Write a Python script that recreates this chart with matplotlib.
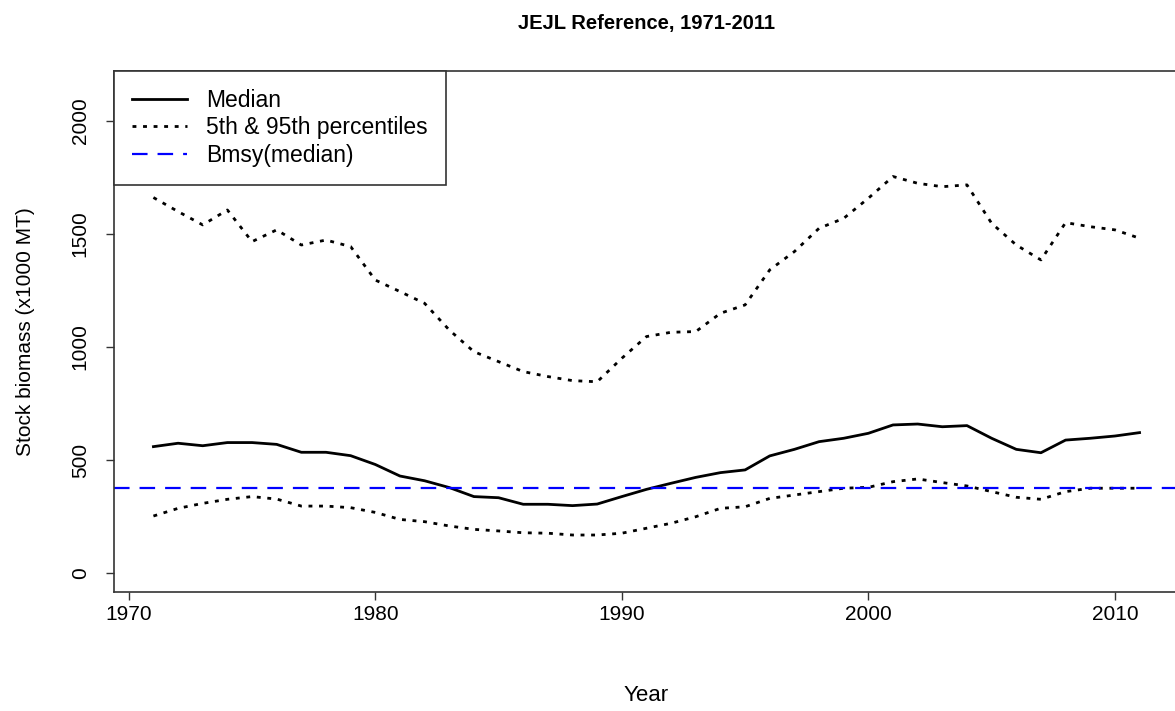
import matplotlib
matplotlib.use("Agg")
import matplotlib.pyplot as plt

plt.rcParams['font.family'] = ['Liberation Sans', 'DejaVu Sans']

# values (x1000 MT)
years = list(range(1971, 2012))
median = [559, 574, 563, 577, 577, 569, 534, 534, 519, 480,
          429, 408, 378, 338, 333, 304, 304, 298, 305, 338,
          370, 397, 423, 444, 456, 518, 547, 581, 596, 618,
          655, 659, 647, 652, 596, 547, 532, 588, 596, 606, 621]
p05 = [252, 286, 308, 326, 338, 327, 296, 296, 289, 268,
       237, 227, 208, 193, 186, 178, 176, 168, 168, 176,
       198, 220, 249, 286, 293, 330, 345, 360, 375, 379,
       404, 416, 400, 385, 360, 335, 326, 360, 375, 375, 375]
p95 = [1661, 1599, 1540, 1606, 1466, 1518, 1451, 1473, 1444, 1296,
       1245, 1193, 1075, 979, 935, 891, 869, 851, 846, 950,
       1046, 1065, 1068, 1149, 1186, 1341, 1422, 1525, 1569, 1658,
       1754, 1724, 1709, 1717, 1547, 1451, 1385, 1550, 1532, 1518, 1481]
bmsy = 378

fig = plt.figure(figsize=(11.75, 7.11), dpi=100)
ax = fig.add_axes([0.0970, 0.1674, 0.9064, 0.7328])

ax.plot(years, median, color='black', lw=2.0, label='Median')
ax.plot(years, p95, color='black', lw=2.0, dashes=(1.4, 2.4), label='5th & 95th percentiles')
ax.plot(years, p05, color='black', lw=2.0, dashes=(1.4, 2.4))
ax.axhline(bmsy, color='#0000ff', lw=1.6, dashes=(7, 4.5), label='Bmsy(median)')

ax.set_xlim(1969.4, 2012.6)
ax.set_ylim(-84, 2221)
ax.set_xticks([1970, 1980, 1990, 2000, 2010])
ax.set_yticks([0, 500, 1000, 1500, 2000])
ax.tick_params(axis='both', direction='out', length=5.5, width=1, labelsize=15, color='#333333')
ax.tick_params(axis='x', pad=4)
ax.tick_params(axis='y', pad=12)
for lab in ax.get_yticklabels():
    lab.set_rotation(90)
    lab.set_va('center')
for sp in ax.spines.values():
    sp.set_linewidth(1.2)
    sp.set_color('#333333')

ax.set_xlabel('Year', fontsize=16, labelpad=44)
ax.set_ylabel('Stock biomass (x1000 MT)', fontsize=15, labelpad=26)
ax.set_title('JEJL Reference, 1971-2011', fontsize=14.5, fontweight='bold', pad=30)

leg = ax.legend(loc='upper left', bbox_to_anchor=(0, 1), borderaxespad=0,
                fontsize=16.5, fancybox=False, framealpha=1, edgecolor='#333333',
                handlelength=2.4, handletextpad=0.8, labelspacing=0.18,
                borderpad=0.8)
leg.get_frame().set_linewidth(1.2)

fig.savefig('out.png', dpi=100)
